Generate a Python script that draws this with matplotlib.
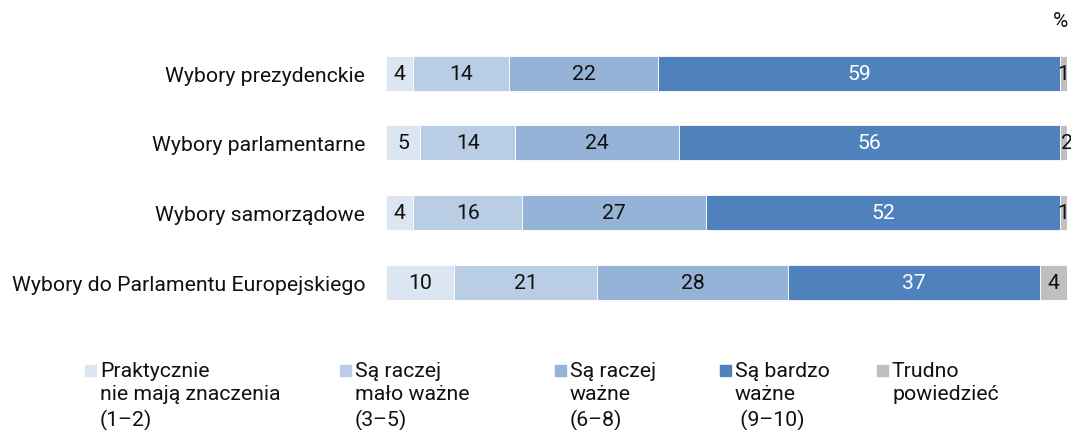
import matplotlib.pyplot as plt
from matplotlib.patches import Rectangle

plt.rcParams['font.family'] = ['Roboto', 'DejaVu Sans']

kategorie = ['Wybory prezydenckie', 'Wybory parlamentarne',
             'Wybory samorządowe', 'Wybory do Parlamentu Europejskiego']
nie_maja = [4, 5, 4, 10]
malo_wazne = [14, 14, 16, 21]
raczej_wazne = [22, 24, 27, 28]
bardzo_wazne = [59, 56, 52, 37]
trudno = [1, 2, 1, 4]

serie = [nie_maja, malo_wazne, raczej_wazne, bardzo_wazne, trudno]
etykiety = ['Praktycznie\nnie mają znaczenia\n(1–2)',
            'Są raczej\nmało ważne\n(3–5)',
            'Są raczej\nważne\n(6–8)',
            'Są bardzo\nważne\n (9–10)',
            'Trudno\npowiedzieć']
kolory = ['#dce6f2', '#b9cde5', '#95b3d7', '#4f81bd', '#bfbfbf']
kolory_tekstu = ['#111111', '#111111', '#111111', 'white', '#111111']

fig = plt.figure(figsize=(10.71, 4.31), dpi=100)
ax = fig.add_axes([0.3604, 0.2599, 0.9963 - 0.3604, 0.9095 - 0.2599])

y = list(range(len(kategorie)))
lewo = [0] * len(kategorie)
for vals, kol, kt in zip(serie, kolory, kolory_tekstu):
    bars = ax.barh(y, vals, left=lewo, height=0.5, color=kol,
                   edgecolor='white', linewidth=0.6)
    for i, v in enumerate(vals):
        cx = lewo[i] + v / 2
        ax.text(cx, i, str(v), ha='center', va='center', fontsize=15.3,
                color=kt, clip_on=False)
    lewo = [l + v for l, v in zip(lewo, vals)]

ax.set_xlim(0, 100)
ax.set_ylim(3.5, -0.5)
ax.set_yticks(y)
ax.set_yticklabels(kategorie, fontsize=15.3, color='#111111')
ax.tick_params(axis='y', length=0, pad=15)
ax.set_xticks([])
for s in ax.spines.values():
    s.set_visible(False)

fig.text(0.997, 0.949, '%', ha='right', va='center', fontsize=15, color='#111111')

# legenda
leg_x = [85, 340, 555, 720, 877]
for xp, kol, et in zip(leg_x, kolory, etykiety):
    fig.add_artist(Rectangle((xp / 1071, 1 - 377 / 431), 11 / 1071, 11 / 431,
                             transform=fig.transFigure, color=kol))
    fig.text((xp + 15) / 1071, 1 - 362 / 431, et, ha='left', va='top',
             fontsize=15.3, color='#111111', linespacing=1.3)

fig.savefig('out.png', dpi=100)
